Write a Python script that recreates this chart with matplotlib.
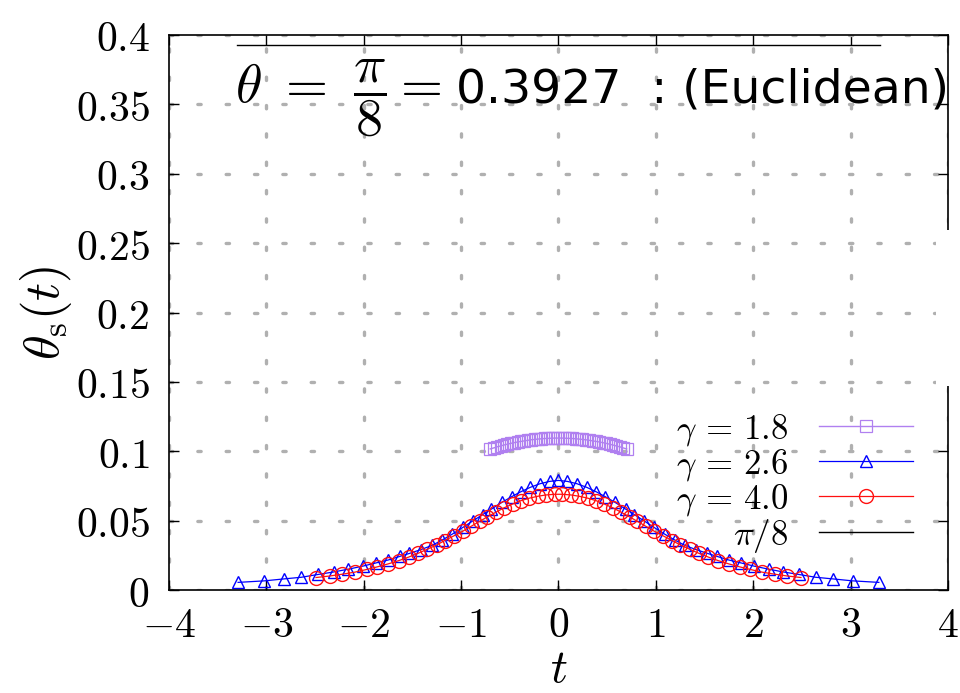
import numpy as np
import matplotlib
matplotlib.use("Agg")
import matplotlib.pyplot as plt
from matplotlib.patches import Rectangle

plt.rcParams['mathtext.fontset'] = 'cm'

# gamma = 1.8
t_18 = [-0.700, -0.665, -0.630, -0.595, -0.560, -0.525, -0.490, -0.455, -0.420, -0.385,
        -0.350, -0.315, -0.280, -0.245, -0.210, -0.175, -0.140, -0.105, -0.070, -0.035,
        0.000, 0.035, 0.070, 0.105, 0.140, 0.175, 0.210, 0.245, 0.280, 0.315,
        0.350, 0.385, 0.420, 0.455, 0.490, 0.525, 0.560, 0.595, 0.630, 0.665, 0.700]
y_18 = [0.1017, 0.1024, 0.1032, 0.1038, 0.1045, 0.1051, 0.1057, 0.1062, 0.1067, 0.1071,
        0.1075, 0.1079, 0.1083, 0.1085, 0.1088, 0.1090, 0.1092, 0.1093, 0.1094, 0.1095,
        0.1095, 0.1095, 0.1094, 0.1093, 0.1092, 0.1090, 0.1088, 0.1085, 0.1083, 0.1079,
        0.1075, 0.1071, 0.1067, 0.1062, 0.1057, 0.1051, 0.1045, 0.1038, 0.1032, 0.1024, 0.1017]

# gamma = 2.6
t_26 = [-3.29, -3.02, -2.82, -2.64, -2.47, -2.31, -2.16, -2.01, -1.87, -1.75, -1.63, -1.53, -1.41,
        -1.30, -1.20, -1.09, -0.98, -0.88, -0.78, -0.69, -0.58, -0.48, -0.39, -0.29, -0.19, -0.09,
        0.00,
        0.09, 0.19, 0.29, 0.39, 0.48, 0.58, 0.69, 0.78, 0.88, 0.98, 1.09, 1.20, 1.30,
        1.41, 1.53, 1.63, 1.75, 1.87, 2.01, 2.16, 2.31, 2.47, 2.64, 2.82, 3.02, 3.29]
y_26 = [0.0055, 0.0066, 0.0080, 0.0092, 0.0112, 0.0130, 0.0150, 0.0172, 0.0196, 0.0216, 0.0242, 0.0264, 0.0292,
        0.0321, 0.0358, 0.0403, 0.0452, 0.0498, 0.0543, 0.0583, 0.0632, 0.0673, 0.0707, 0.0740, 0.0766, 0.0783,
        0.0790,
        0.0783, 0.0766, 0.0740, 0.0707, 0.0673, 0.0632, 0.0583, 0.0543, 0.0498, 0.0452, 0.0403, 0.0358, 0.0321,
        0.0292, 0.0264, 0.0242, 0.0216, 0.0196, 0.0172, 0.0150, 0.0130, 0.0112, 0.0092, 0.0080, 0.0066, 0.0055]

# gamma = 4.0
t_40 = [-2.49, -2.35, -2.22, -2.09, -1.97, -1.86, -1.75, -1.64, -1.54, -1.44, -1.35, -1.25, -1.17,
        -1.07, -0.98, -0.90, -0.81, -0.73, -0.64, -0.56, -0.47, -0.39, -0.30, -0.21, -0.13, -0.04,
        0.04, 0.13, 0.21, 0.30, 0.39, 0.47, 0.56, 0.64, 0.73, 0.81, 0.90, 0.98, 1.07,
        1.17, 1.25, 1.35, 1.44, 1.54, 1.64, 1.75, 1.86, 1.97, 2.09, 2.22, 2.35, 2.49]
y_40 = [0.0090, 0.0101, 0.0114, 0.0129, 0.0148, 0.0167, 0.0188, 0.0212, 0.0237, 0.0265, 0.0293, 0.0325, 0.0356,
        0.0392, 0.0425, 0.0458, 0.0495, 0.0527, 0.0562, 0.0592, 0.0620, 0.0643, 0.0662, 0.0676, 0.0685, 0.0690,
        0.0690, 0.0685, 0.0676, 0.0662, 0.0643, 0.0620, 0.0592, 0.0562, 0.0527, 0.0495, 0.0458, 0.0425, 0.0392,
        0.0356, 0.0325, 0.0293, 0.0265, 0.0237, 0.0212, 0.0188, 0.0167, 0.0148, 0.0129, 0.0114, 0.0101, 0.0090]

# pi/8 reference line
t_pi8 = [-3.3, 3.3]
y_pi8 = [np.pi / 8, np.pi / 8]

xticks = [-4, -3, -2, -1, 0, 1, 2, 3, 4]
xticklabels = ['$-4$', '$-3$', '$-2$', '$-1$', '$0$', '$1$', '$2$', '$3$', '$4$']
yticks = [0, 0.05, 0.1, 0.15, 0.2, 0.25, 0.3, 0.35, 0.4]
yticklabels = ['$0$', '$0.05$', '$0.1$', '$0.15$', '$0.2$', '$0.25$', '$0.3$', '$0.35$', '$0.4$']

fig = plt.figure(figsize=(9.6, 6.93), dpi=100)
ax = fig.add_axes([0.176, 0.1486, 0.8115, 0.8009])

ax.grid(True, color='#b0b0b0', lw=2.4, linestyle=(0, (1.0, 7.5)), dash_capstyle='round', zorder=0)

ax.plot(t_18, y_18, color='#b080f0', lw=1.0, marker='s', ms=8.5, mfc='none', mew=0.9,
        label=r'$\gamma \,=\, 1.8$')
ax.plot(t_26, y_26, color='#0000ff', lw=0.9, marker='^', ms=9, mfc='none', mew=1.0,
        label=r'$\gamma \,=\, 2.6$')
ax.plot(t_40, y_40, color='#ff1010', lw=0.9, marker='o', ms=10, mfc='none', mew=1.0,
        label=r'$\gamma \,=\, 4.0$')
ax.plot(t_pi8, y_pi8, color='black', lw=1.0, label=r'$\pi/8$')

ax.set_xlim(-4, 4)
ax.set_ylim(0, 0.4)
ax.set_xticks(xticks)
ax.set_xticklabels(xticklabels)
ax.set_yticks(yticks)
ax.set_yticklabels(yticklabels)
ax.tick_params(direction='in', length=7, width=1, top=True, right=True, labelsize=30)
ax.tick_params(axis='x', pad=10)
ax.tick_params(axis='y', pad=14)
for s in ax.spines.values():
    s.set_linewidth(1.2)

ax.set_xlabel('$t$', fontsize=34, va='bottom')
ax.xaxis.set_label_coords(0.5, -0.1835)
ax.set_ylabel(r'$\theta_{\rm s}(t)$', fontsize=36, labelpad=1)

# title inside the frame: math part, then plain text part
ax.text(-3.32, 0.351, r'$\theta\ =\ \dfrac{\pi}{8}=$',
        fontsize=39, va='baseline', ha='left', clip_on=False)
ax.text(-1.05, 0.351, '0.3927  : (Euclidean)',
        fontsize=34, family='DejaVu Sans', va='baseline', ha='left', clip_on=False)

# gap in the right border
ax.add_patch(Rectangle((0.984, 0.3676), 0.03, 0.281, transform=ax.transAxes,
                       facecolor='white', edgecolor='none', clip_on=False, zorder=5))

ax.legend(loc='upper right', bbox_to_anchor=(0.955, 0.322), frameon=False,
          fontsize=25, markerfirst=False, handlelength=2.7, handletextpad=0.9,
          labelspacing=-0.04, borderpad=0, borderaxespad=0)

fig.savefig('out.png', dpi=100)
